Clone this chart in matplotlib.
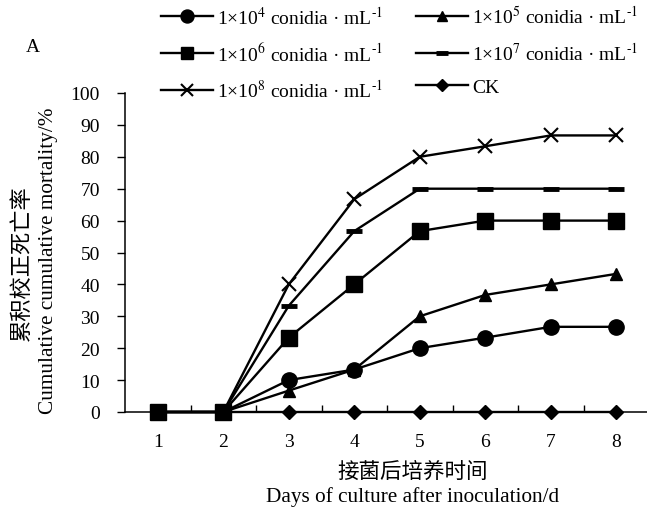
import matplotlib
matplotlib.use("Agg")
import numpy as np
import matplotlib.pyplot as plt

plt.rcParams["font.family"] = ["Liberation Serif", "Noto Sans CJK SC"]
plt.rcParams["mathtext.fontset"] = "stix"

days = [1, 2, 3, 4, 5, 6, 7, 8]
c1e4 = [0, 0, 10.0, 13.3, 20.0, 23.3, 26.7, 26.7]
c1e5 = [0, 0, 6.7, 13.3, 30.0, 36.7, 40.0, 43.3]
c1e6 = [0, 0, 23.3, 40.0, 56.7, 60.0, 60.0, 60.0]
c1e7 = [0, 0, 33.3, 56.7, 70.0, 70.0, 70.0, 70.0]
c1e8 = [0, 0, 40.0, 66.7, 80.0, 83.3, 86.7, 86.7]
ck = [0, 0, 0, 0, 0, 0, 0, 0]

lab = "1×10$^{%d}$ conidia · mL$^{‐1}$"

fig = plt.figure(figsize=(6.47, 5.10), dpi=100)
ax = fig.add_axes([125 / 647, 97 / 510, 524 / 647, 319 / 510])

kw = dict(color="black", linewidth=1.7, clip_on=False)
l4, = ax.plot(days, c1e4, marker="o", markersize=11, zorder=3, **kw)
l5, = ax.plot(days, c1e5, marker="^", markersize=9, zorder=3, **kw)
l7, = ax.plot(days, c1e7, marker="_", markersize=11, markeredgewidth=3.5, zorder=3, **kw)
l8, = ax.plot(days, c1e8, marker="x", markersize=10, markeredgewidth=1.5, zorder=3, **kw)
lck, = ax.plot(days, ck, marker="D", markersize=7, zorder=3, **kw)
l6, = ax.plot(days, c1e6, marker="s", markersize=11, zorder=4, **kw)

ax.set_xlim(0.5, 8.5)
ax.set_ylim(0, 100)
ax.set_yticks(np.arange(0, 101, 10))
ax.set_xticks(np.arange(1.5, 8.0, 1.0))
ax.set_xticklabels([])
ax.set_xticks(days, minor=True)
ax.set_xticklabels([str(d) for d in days], minor=True)
ax.tick_params(axis="x", which="major", direction="in", length=5, width=1)
ax.tick_params(axis="x", which="minor", length=0, pad=15, labelsize=14)
ax.tick_params(axis="y", direction="out", length=6, width=1, labelsize=14, pad=12)

for s in ["top", "right"]:
    ax.spines[s].set_visible(False)
for s in ["left", "bottom"]:
    ax.spines[s].set_linewidth(1.1)

fig.text(22 / 647, 1 - 263 / 510, "累积校正死亡率", rotation=90,
         ha="center", va="center", fontsize=16)
fig.text(49 / 647, 1 - 261 / 510, "Cumulative cumulative mortality/%", rotation=90,
         ha="center", va="center", fontsize=15.3)
fig.text(413 / 647, 1 - 473 / 510, "接菌后培养时间", ha="center", va="center", fontsize=15.5)
fig.text(413 / 647, 1 - 497 / 510, "Days of culture after inoculation/d",
         ha="center", va="center", fontsize=15.3)
fig.text(33 / 647, 1 - 47 / 510, "A", ha="center", va="center", fontsize=14)

handles = [l4, l6, l8, l5, l7, lck]
labels = [lab % 4, lab % 6, lab % 8, lab % 5, lab % 7, "CK"]
fig.legend(handles, labels, ncol=2, loc="upper left",
           bbox_to_anchor=(161 / 647, 1 - 6 / 510), frameon=False,
           fontsize=14, handlelength=2.68, handletextpad=0.2, markerscale=0.85,
           columnspacing=1.7, labelspacing=0.75, borderaxespad=0, borderpad=0)

fig.savefig("out.png", dpi=100)
